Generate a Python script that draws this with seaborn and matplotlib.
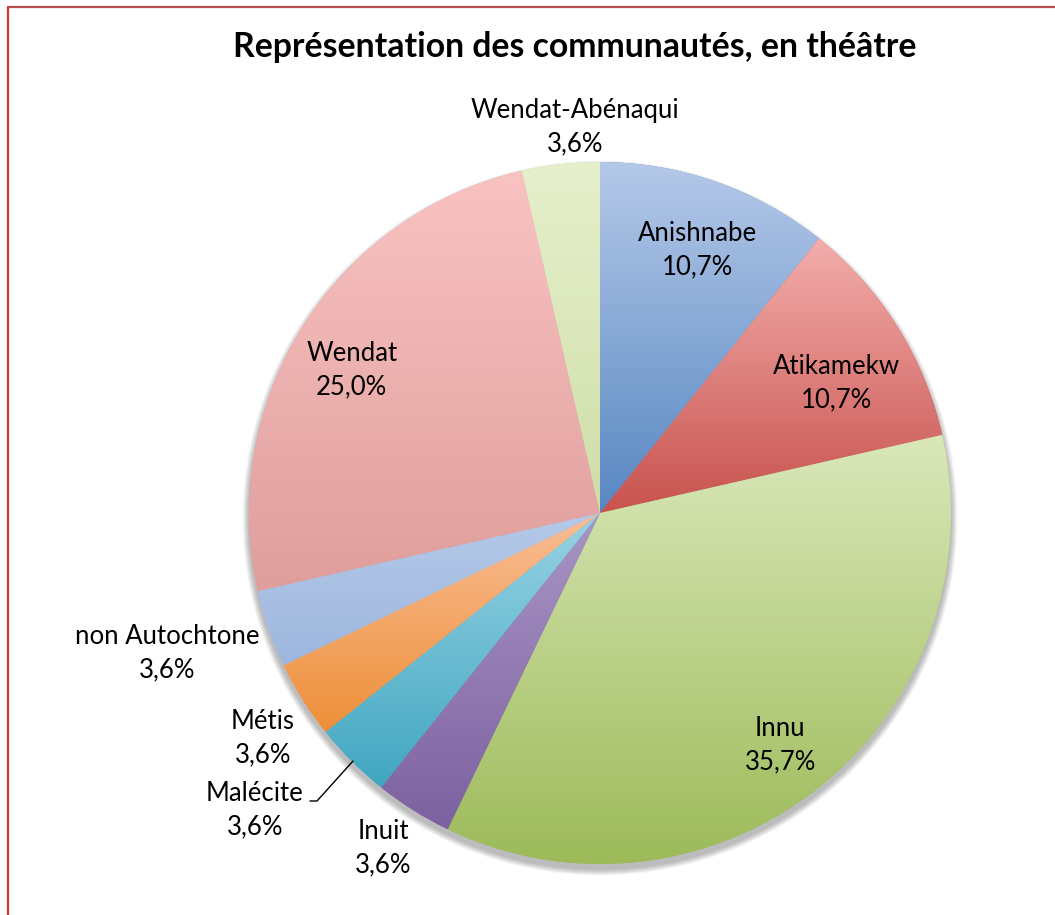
import numpy as np
import matplotlib

matplotlib.use("Agg")
import matplotlib.pyplot as plt
import seaborn as sns
from matplotlib.colors import LinearSegmentedColormap
from matplotlib.lines import Line2D
from matplotlib.patches import Circle

# Données : nombre de pièces par communauté (total 28)
communautes = ["Anishnabe", "Atikamekw", "Innu", "Inuit", "Malécite",
               "Métis", "non Autochtone", "Wendat", "Wendat-Abénaqui"]
nombres = [3, 3, 10, 1, 1, 1, 1, 7, 1]

# Dégradés (haut, bas) façon Excel
couleurs_haut = ["#b5c9e9", "#f3aeac", "#dae8ba", "#a995c5", "#98d3e4",
                 "#f9be96", "#b5c9e9", "#f9c3c2", "#e6f0cd"]
couleurs_bas = ["#5787c1", "#c8524e", "#9cba58", "#7d61a0", "#41a6c1",
                "#ee8f38", "#9eb7de", "#df9e9c", "#cfdea7"]

# Position des étiquettes (en rayons, centre du camembert = 0,0)
etiquettes_xy = [(0.279, 0.749), (0.675, 0.370), (0.513, -0.661),
                 (-0.618, -0.954), (-0.983, -0.846), (-0.960, -0.641),
                 (-1.234, -0.399), (-0.707, 0.407), (-0.071, 1.100)]

PX = 351.0   # rayon en pixels
CX, CY = 600, 513
W, H = 1055, 915


def dessiner():
    sns.set_theme(style="white")
    plt.rcParams["font.family"] = ["Lato", "DejaVu Sans"]

    fig = plt.figure(figsize=(W / 100, H / 100), dpi=100)
    ax = fig.add_axes([0, 0, 1, 1])

    # ombre douce sous le camembert
    for k in range(8, 0, -1):
        ax.add_patch(Circle((0, -5 / PX), 1 + k * 0.8 / PX, color="black",
                            alpha=0.035, lw=0, zorder=0))

    wedges, _ = ax.pie(nombres, startangle=90, counterclock=False,
                       radius=1, center=(0, 0),
                       wedgeprops=dict(linewidth=0, edgecolor="none"))

    total = sum(nombres)
    for i, w in enumerate(wedges):
        w.set_facecolor(couleurs_bas[i])
        w.set_zorder(1)
        v = w.get_path().vertices
        x0, x1 = v[:, 0].min(), v[:, 0].max()
        y0, y1 = v[:, 1].min(), v[:, 1].max()
        cmap = LinearSegmentedColormap.from_list(
            f"g{i}", [couleurs_bas[i], couleurs_haut[i]])
        grad = np.linspace(0, 1, 256).reshape(-1, 1)
        im = ax.imshow(grad, extent=[x0, x1, y0, y1], origin="lower",
                       cmap=cmap, aspect="auto", zorder=2,
                       interpolation="bilinear")
        im.set_clip_path(w)

        pct = f"{100 * nombres[i] / total:.1f}%".replace(".", ",")
        tx, ty = etiquettes_xy[i]
        ax.text(tx, ty, f"{communautes[i]}\n{pct}", ha="center",
                va="center", fontsize=18.5, color="black", linespacing=1.43,
                zorder=5)

    # trait de rappel pour Malécite
    ax.plot([(310 - CX) / PX, (317 - CX) / PX, (353 - CX) / PX],
            [(CY - 801) / PX, (CY - 801) / PX, (CY - 761) / PX],
            color="black", lw=1, zorder=5)

    ax.set_xlim(-CX / PX, (W - CX) / PX)
    ax.set_ylim((CY - H) / PX, CY / PX)
    ax.set_aspect("equal")
    ax.axis("off")

    fig.text(575 / W, 1 - 47 / H, "Représentation des communautés, en théâtre",
             ha="center", va="center", fontsize=24.3, fontweight="bold",
             color="black")

    # cadre rouge (haut et gauche)
    fig.add_artist(Line2D([8 / W, 1], [1 - 7 / H, 1 - 7 / H],
                          color="#b5514f", lw=1.6))
    fig.add_artist(Line2D([8 / W, 8 / W], [0, 1 - 7 / H],
                          color="#d23a3a", lw=1.6))

    fig.savefig("out.png", dpi=100, facecolor="white")
    plt.close(fig)


if __name__ == "__main__":
    dessiner()
